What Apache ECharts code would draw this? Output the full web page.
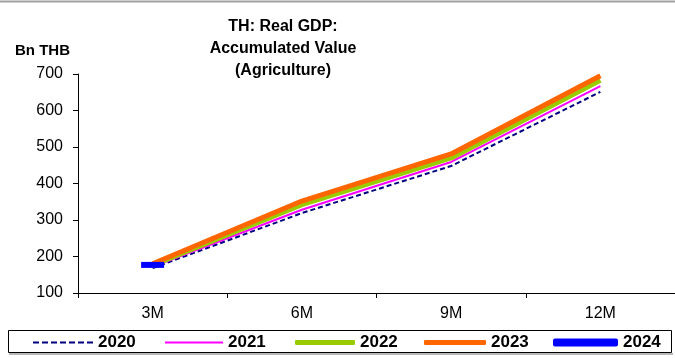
<!DOCTYPE html>
<html><head><meta charset="utf-8">
<script src="https://cdn.jsdelivr.net/npm/echarts@6/dist/echarts.min.js"></script>
<style>html,body{margin:0;padding:0;background:#fff}#c{width:675px;height:358px}</style>
</head><body><div id="c"></div>
<script>
const categories = ['3M', '6M', '9M', '12M'];
const s2020 = [168, 319, 448, 651];
const s2021 = [172, 328, 459, 667];
const s2022 = [176, 342, 470, 683];
const s2023 = [180, 352, 481, 695];
const s2024 = [177];
const yTicks = {min: 100, max: 700, interval: 100};

const chart = echarts.init(document.getElementById('c'));
const font = 'Liberation Sans, Arial, sans-serif';
const legText = {fontFamily: font, fontSize: 17, fontWeight: 'bold', color: '#000'};
const dashPath = 'path://M0,0h6v2h-6z M9,0h6v2h-6z M18,0h6v2h-6z M27,0h6v2h-6z M36,0h6v2h-6z M45,0h6v2h-6z M54,0h6v2h-6z';
function leg(name, left, w, h, icon, color) {
  return {left: left, top: 334, itemWidth: w, itemHeight: h, itemGap: 0, padding: 0,
    textStyle: legText, selectedMode: false,
    data: [{name: name, icon: icon, itemStyle: {color: color, borderWidth: 0}}]};
}
chart.setOption({
  animation: false,
  backgroundColor: '#fff',
  title: {
    text: 'TH: Real GDP:\nAccumulated Value\n(Agriculture)',
    left: 278, top: 11, textAlign: 'center',
    textStyle: {fontFamily: font, fontSize: 16, fontWeight: 'bold', color: '#000', lineHeight: 22}
  },
  graphic: [
    {type: 'line', shape: {x1: 0, y1: 1.5, x2: 675, y2: 1.5}, style: {stroke: '#a0a0a0', lineWidth: 2}},
    {type: 'text', left: 15, top: 43, style: {text: 'Bn THB', font: 'bold 15px ' + font, fill: '#000'}},
    {type: 'rect', shape: {x: 8.5, y: 330.5, width: 663, height: 22}, style: {fill: 'none', stroke: '#000', lineWidth: 1}, z: -1},
    {type: 'line', shape: {x1: 9, y1: 354, x2: 673, y2: 354}, style: {stroke: '#a0a0a0', lineWidth: 1.5}}
  ],
  legend: [
    leg('2020', 33, 60, 2, dashPath, '#000080'),
    leg('2021', 165, 58, 2, 'rect', '#FF00FF'),
    leg('2022', 295, 60, 5, 'roundRect', '#99CC00'),
    leg('2023', 424, 62, 5, 'roundRect', '#FF6600'),
    leg('2024', 553, 65, 8, 'roundRect', '#0000FF')
  ],
  grid: {left: 78, right: -2, top: 74, bottom: 65},
  xAxis: {
    type: 'category', data: categories, boundaryGap: true,
    axisLine: {lineStyle: {color: '#000', width: 1}},
    axisTick: {show: true, length: 5, lineStyle: {color: '#000'}},
    axisLabel: {fontFamily: font, fontSize: 16, color: '#000', margin: 13},
    splitLine: {show: false}
  },
  yAxis: {
    type: 'value', min: yTicks.min, max: yTicks.max, interval: yTicks.interval,
    axisLine: {show: true, lineStyle: {color: '#000', width: 1}},
    axisTick: {show: true, length: 5, lineStyle: {color: '#000'}},
    axisLabel: {fontFamily: font, fontSize: 16, color: '#000', margin: 15},
    splitLine: {show: false}
  },
  series: [
    {name: '2020', type: 'line', data: s2020, symbol: 'none', lineStyle: {color: '#000080', width: 2, type: [5, 3]}, itemStyle: {color: '#000080'}, z: 1},
    {name: '2021', type: 'line', data: s2021, symbol: 'none', lineStyle: {color: '#FF00FF', width: 2}, itemStyle: {color: '#FF00FF'}, z: 2},
    {name: '2022', type: 'line', data: s2022, symbol: 'none', lineStyle: {color: '#99CC00', width: 5}, itemStyle: {color: '#99CC00'}, z: 3},
    {name: '2023', type: 'line', data: s2023, symbol: 'none', lineStyle: {color: '#FF6600', width: 5}, itemStyle: {color: '#FF6600'}, z: 4},
    {name: '2024', type: 'line', data: s2024, symbol: 'rect', symbolSize: [23, 6], showSymbol: true, lineStyle: {color: '#0000FF', width: 6}, itemStyle: {color: '#0000FF'}, z: 5}
  ]
});
</script></body></html>
